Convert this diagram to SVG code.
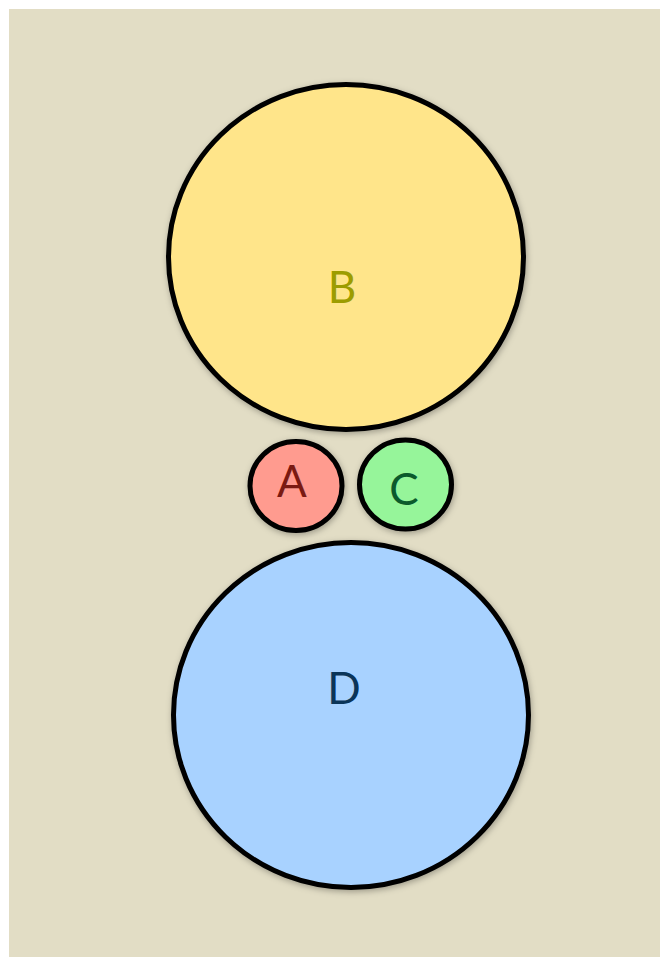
<svg xmlns="http://www.w3.org/2000/svg" width="660" height="957" viewBox="0 0 660 957">
<defs>
<filter id="sh" x="-20%" y="-20%" width="140%" height="140%">
<feDropShadow dx="1" dy="2" stdDeviation="3" flood-color="#000" flood-opacity="0.3"/>
</filter>
<style>
.n{stroke:#000;stroke-width:5;filter:url(#sh)}
.t{font-family:Lato,"Open Sans",sans-serif;font-size:44px;text-anchor:middle}
</style>
</defs>
<rect x="0" y="0" width="660" height="957" fill="#fff"/>
<rect x="9" y="9" width="651" height="948" fill="#e2ddc5"/>
<g id="connectors"/>
<g id="B"><ellipse class="n" cx="346" cy="257" rx="177.5" ry="172.5" fill="#ffe58a"/><text class="t" x="342" y="303" fill="#9c9c00">B</text></g>
<g id="A"><ellipse class="n" cx="296" cy="486" rx="46" ry="44.5" fill="#ff9b8f"/><text class="t" x="292" y="497" fill="#7a1a12">A</text></g>
<g id="C"><ellipse class="n" cx="405.5" cy="484.5" rx="46" ry="44.5" fill="#96f59a"/><text class="t" x="404" y="505" fill="#0b5a2c">C</text></g>
<g id="D"><ellipse class="n" cx="351" cy="715" rx="177.5" ry="172.5" fill="#a8d2ff"/><text class="t" x="344" y="704" fill="#0b3558">D</text></g>
</svg>
